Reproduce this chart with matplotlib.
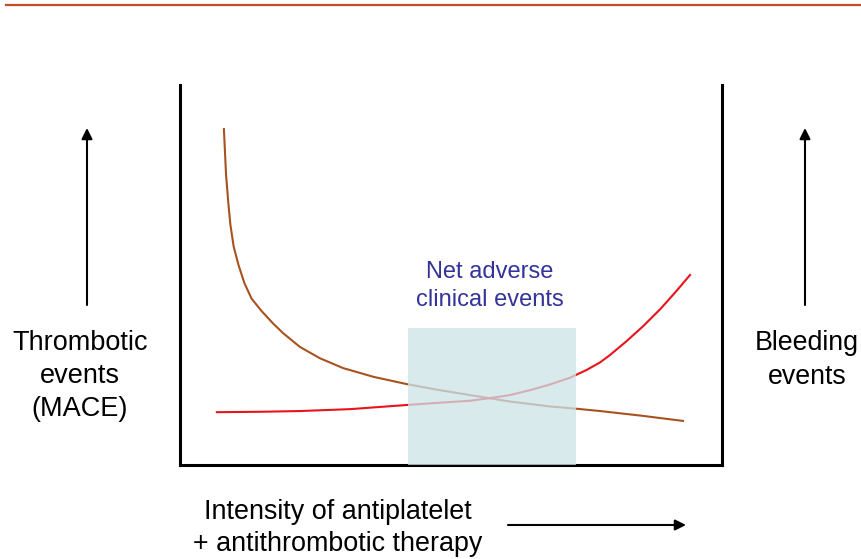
import matplotlib.pyplot as plt
from matplotlib.patches import Rectangle

plt.rcParams['font.family'] = ['Liberation Sans', 'DejaVu Sans']

# intensity of therapy (0-100) vs event rate (0-100)
thrombotic_x = [8.1, 8.5, 8.9, 9.3, 9.9, 10.8, 11.9, 13.2, 15.0, 17.2, 19.1, 22.1,
                25.8, 30.1, 35.7, 41.8, 47.5, 53.5, 60.9, 68.3, 73.2, 77.5, 85.0, 92.8]
thrombotic_y = [88.4, 76.3, 69.2, 63.2, 57.5, 52.6, 47.8, 43.8, 40.6, 37.2, 34.6, 31.1,
                28.1, 25.5, 23.2, 21.3, 19.8, 18.4, 16.7, 15.4, 14.8, 14.2, 13.0, 11.6]

bleeding_x = [6.8, 14.5, 22.1, 31.4, 41.9, 48.0, 53.5, 57.2, 60.9, 64.6, 68.3, 72.0,
              75.0, 77.5, 79.3, 82.4, 85.5, 88.6, 91.6, 94.1]
bleeding_y = [13.9, 14.0, 14.2, 14.7, 15.8, 16.4, 16.9, 17.6, 18.4, 19.7, 21.2, 23.0,
              25.0, 27.0, 28.9, 32.6, 36.6, 41.0, 45.8, 50.0]

# "net adverse clinical events" window
window_x = [42.1, 73.1]
window_top = 36.1

fig = plt.figure(figsize=(8.61, 5.59), dpi=100)

# overlay for the decorations outside the box (pixel coordinates)
ov = fig.add_axes([0, 0, 1, 1])
ov.set_xlim(0, 861)
ov.set_ylim(559, 0)
ov.axis('off')

ax = fig.add_axes([180 / 861, (559 - 465) / 559, 542 / 861, 380 / 559])
ax.set_xlim(0, 100)
ax.set_ylim(0, 100)
ax.set_xticks([])
ax.set_yticks([])
ax.spines['top'].set_visible(False)
for s in ['left', 'right', 'bottom']:
    ax.spines[s].set_linewidth(2.2)
    ax.spines[s].set_color('black')
ax.patch.set_alpha(0)

ax.plot(thrombotic_x, thrombotic_y, color='#a8521f', lw=1.5, zorder=2, solid_joinstyle='round')
ax.plot(bleeding_x, bleeding_y, color='#e8141c', lw=1.5, zorder=2, solid_joinstyle='round')
ax.add_patch(Rectangle((window_x[0], 0), window_x[1] - window_x[0], window_top,
                       facecolor='#cde3e8', alpha=0.75, edgecolor='none', zorder=3))
ax.text((window_x[0] + window_x[1]) / 2 - 0.5, window_top + 11, 'Net adverse\nclinical events',
        ha='center', va='center', fontsize=17, color='#333399', linespacing=1.3)

# top rule
ov.plot([6, 861], [5, 5], color='#c24e26', lw=1.6)

# side labels and arrows
ov.text(80, 376, 'Thrombotic\nevents\n(MACE)', ha='center', va='center', fontsize=19.5, linespacing=1.35)
ov.text(807, 360, 'Bleeding\nevents', ha='center', va='center', fontsize=19.3, linespacing=1.35)
ov.text(338, 528, 'Intensity of antiplatelet\n+ antithrombotic therapy', ha='center', va='center',
        fontsize=19.4, linespacing=1.3)

arrow = dict(arrowstyle='-|>', color='black', lw=1.5, mutation_scale=16, shrinkA=0, shrinkB=0)
ov.annotate('', xy=(87, 128), xytext=(87, 305), arrowprops=arrow)
ov.annotate('', xy=(805, 128), xytext=(805, 305), arrowprops=arrow)
ov.annotate('', xy=(686, 525), xytext=(508, 525), arrowprops=arrow)

fig.savefig('out.png', dpi=100)
